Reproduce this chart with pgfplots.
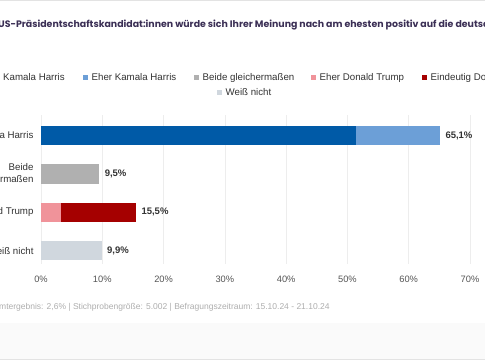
\documentclass[border=0pt]{standalone}
\usepackage{fontspec}
\setmainfont{Liberation Sans}
\newfontfamily\titlefont{Poppins}
\usepackage{pgfplots}
\pgfplotsset{compat=1.18}
\definecolor{cEH}{HTML}{005AA7}
\definecolor{cKH}{HTML}{6C9FD7}
\definecolor{cBG}{HTML}{B0B0B0}
\definecolor{cDT}{HTML}{F0939A}
\definecolor{cET}{HTML}{A50000}
\definecolor{cWN}{HTML}{D0D7DE}
\definecolor{titlecol}{HTML}{3B2F55}
\definecolor{txt}{HTML}{333333}
\definecolor{ticktxt}{HTML}{555555}
\definecolor{foot}{HTML}{AEAEAE}
\definecolor{band}{HTML}{FAFAFA}
\definecolor{linegray}{HTML}{E3E3E3}
\definecolor{gridc}{HTML}{EDEDED}
\newcommand{\legm}[1]{\textcolor{#1}{\raisebox{0.5pt}{\rule{5pt}{5pt}}}\hspace{3.5pt}}
\tikzset{lbl/.style={anchor=base west, inner sep=0, font=\fontsize{9.7}{11}\selectfont, text=txt},
  vlab/.style={anchor=west, font=\bfseries\fontsize{9.5}{11}\selectfont, text=txt, xshift=2pt}}
\begin{document}
\begin{tikzpicture}[x=1pt,y=1pt]
\path[use as bounding box] (0,0) rectangle (485,-360);
\clip (0,0) rectangle (485,-360);
\fill[white] (0,0) rectangle (485,-360);
\fill[band] (0,-323) rectangle (485,-360);
\draw[linegray] (0,-359.5) -- (485,-359.5);
\draw[linegray] (0,-0.5) -- (485,-0.5);
\node[anchor=base west, inner sep=0, font=\titlefont\bfseries\fontsize{9.4}{11}\selectfont, text=titlecol] at (-2,-27) {\llap{Welche:r der }US-Präsidentschaftskandidat:innen würde sich Ihrer Meinung nach am ehesten positiv auf die deutsche Wirtschaft auswirken?};
\node[lbl] at (3,-80) {\llap{\legm{cEH}Eindeutig }Kamala Harris};
\node[lbl] at (83,-80) {\legm{cKH}Eher Kamala Harris};
\node[lbl] at (194,-80) {\legm{cBG}Beide gleichermaßen};
\node[lbl] at (311,-80) {\legm{cDT}Eher Donald Trump};
\node[lbl] at (422,-80) {\legm{cET}Eindeutig Donald Trump};
\node[lbl] at (217,-95) {\legm{cWN}Weiß nicht};
\begin{axis}[
  at={(41pt,-264pt)}, anchor=south west,
  scale only axis, width=429pt, height=149pt,
  xbar stacked, bar width=19.3pt,
  xmin=0, xmax=70,
  ymin=-0.535, ymax=3.35, y dir=reverse,
  xtick={0,10,20,30,40,50,60,70},
  xticklabels={0\%,10\%,20\%,30\%,40\%,50\%,60\%,70\%},
  ytick={0,1,2,3},
  yticklabels={Kamala Harris,{Beide\\gleichermaßen},Donald Trump,Weiß nicht},
  yticklabel style={align=right, text=txt, font=\fontsize{9.7}{11.5}\selectfont, xshift=-4pt},
  xticklabel style={text=ticktxt, font=\fontsize{9.3}{11}\selectfont, yshift=-8pt},
  axis line style={draw=none},
  major tick style={draw=none},
  xmajorgrids, grid style={gridc, line width=0.6pt},
  clip=false,
]
\addplot[draw=none, fill=cEH] coordinates {(51.4,0) (0,1) (0,2) (0,3)};
\addplot[draw=none, fill=cKH] coordinates {(13.7,0) (0,1) (0,2) (0,3)};
\addplot[draw=none, fill=cBG] coordinates {(0,0) (9.5,1) (0,2) (0,3)};
\addplot[draw=none, fill=cDT] coordinates {(0,0) (0,1) (3.3,2) (0,3)};
\addplot[draw=none, fill=cET] coordinates {(0,0) (0,1) (12.2,2) (0,3)};
\addplot[draw=none, fill=cWN] coordinates {(0,0) (0,1) (0,2) (9.9,3)};
\node[vlab] at (axis cs:65.1,0) {65,1\%};
\node[vlab] at (axis cs:9.5,1) {9,5\%};
\node[vlab] at (axis cs:15.5,2) {15,5\%};
\node[vlab] at (axis cs:9.9,3) {9,9\%};
\end{axis}
\node[anchor=base west, inner sep=0, font=\fontsize{8.5}{10}\selectfont, text=foot] at (-1,-309) {\llap{Statistischer Fehler Gesa}mtergebnis: 2,6\% | Stichprobengröße: 5.002 | Befragungszeitraum: 15.10.24 - 21.10.24};
\end{tikzpicture}
\end{document}
